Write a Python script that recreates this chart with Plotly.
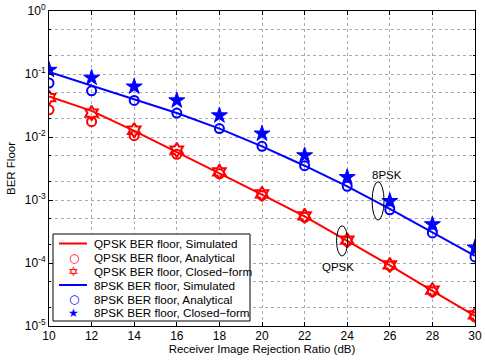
import plotly.graph_objects as go

# Receiver image rejection ratio (dB)
irr_db = [10, 12, 14, 16, 18, 20, 22, 24, 26, 28, 30]

# QPSK BER floor
qpsk_sim = [0.044, 0.026, 0.0125, 0.0058, 0.0027, 0.00122, 5.5e-4, 2.25e-4, 9.2e-5, 3.6e-5, 1.45e-5]
qpsk_ana = [0.027, 0.0175, 0.0105, 0.0053, 0.0026, 0.00118, 5.3e-4, 2.2e-4, 9.0e-5, 3.5e-5, 1.4e-5]
qpsk_cf = [0.042, 0.024, 0.0128, 0.0062, 0.0028, 0.00125, 5.6e-4, 2.3e-4, 9.3e-5, 3.7e-5, 1.5e-5]

# 8PSK BER floor
psk8_sim = [0.108, 0.066, 0.040, 0.024, 0.0136, 0.0071, 0.0035, 0.00165, 7.2e-4, 3.1e-4, 1.3e-4]
psk8_ana = [0.072, 0.054, 0.038, 0.024, 0.0136, 0.0071, 0.0035, 0.00165, 7.0e-4, 3.0e-4, 1.25e-4]
psk8_cf = [0.116, 0.087, 0.063, 0.038, 0.022, 0.0113, 0.0051, 0.0023, 9.6e-4, 4.1e-4, 1.75e-4]

y_tickvals = [1e-5, 1e-4, 1e-3, 1e-2, 1e-1, 1]
y_ticktext = ['10<sup>-5</sup>', '10<sup>-4</sup>', '10<sup>-3</sup>',
              '10<sup>-2</sup>', '10<sup>-1</sup>', '10<sup>0</sup>']
x_tickvals = [10, 12, 14, 16, 18, 20, 22, 24, 26, 28, 30]

legend_names = ['QPSK BER floor, Simulated', 'QPSK BER floor, Analytical',
                'QPSK BER floor, Closed\u2212form', '8PSK BER floor, Simulated',
                '8PSK BER floor, Analytical', '8PSK BER floor, Closed\u2212form']

RED = 'rgb(255,0,0)'
BLUE = 'rgb(0,0,255)'

W, H = 485, 361
M_L, M_R, M_T, M_B = 49, 10, 11, 35
PLOT_W = W - M_L - M_R
PLOT_H = H - M_T - M_B


def px(x_pix: float) -> float:
    """pixel column -> paper x"""
    return (x_pix - M_L) / PLOT_W


def py(y_pix: float) -> float:
    """pixel row -> paper y"""
    return (H - M_B - y_pix) / PLOT_H


fig = go.Figure()

fig.add_trace(go.Scatter(x=irr_db, y=qpsk_sim, mode='lines', name=legend_names[0],
                         line=dict(color=RED, width=2)))
fig.add_trace(go.Scatter(x=irr_db, y=qpsk_ana, mode='markers', name=legend_names[1],
                         marker=dict(symbol='circle-open', size=9, color=RED,
                                     line=dict(width=2, color=RED))))
fig.add_trace(go.Scatter(x=irr_db, y=qpsk_cf, mode='markers', name=legend_names[2],
                         marker=dict(symbol='hexagram-open', size=11, color=RED,
                                     line=dict(width=2, color=RED))))
fig.add_trace(go.Scatter(x=irr_db, y=psk8_sim, mode='lines', name=legend_names[3],
                         line=dict(color=BLUE, width=2)))
fig.add_trace(go.Scatter(x=irr_db, y=psk8_ana, mode='markers', name=legend_names[4],
                         marker=dict(symbol='circle-open', size=9, color=BLUE,
                                     line=dict(width=2, color=BLUE))))
fig.add_trace(go.Scatter(x=irr_db, y=psk8_cf, mode='markers', name=legend_names[5],
                         marker=dict(symbol='star', size=12, color=BLUE,
                                     line=dict(width=1, color=BLUE))))

# ellipses marking the two curve groups
fig.add_shape(type='circle', xref='x', yref='y', x0=23.5, x1=24.02, y0=1.29e-4, y1=3.9e-4,
              line=dict(color='black', width=1))
fig.add_shape(type='circle', xref='x', yref='y', x0=25.17, x1=25.73, y0=4.8e-4, y1=1.95e-3,
              line=dict(color='black', width=1))
# annotations on a log axis take log10 of the y value
fig.add_annotation(x=23.57, y=-4.06, text='QPSK', showarrow=False,
                   font=dict(size=11.5, color='black'))
fig.add_annotation(x=25.87, y=-2.6, text='8PSK', showarrow=False,
                   font=dict(size=11.5, color='black'))

# MATLAB style legend box, drawn by hand so the rows stay compact
fig.add_shape(type='rect', xref='paper', yref='paper', x0=px(53), x1=px(250),
              y0=py(321), y1=py(234), fillcolor='white', line=dict(color='black', width=1),
              layer='above')
row_y = [243.5, 257.5, 271.0, 285.0, 299.0, 312.5]
row_color = [RED, RED, RED, BLUE, BLUE, BLUE]
row_glyph = [None, '\u25cb', '\u2721', None, '\u25cb', '\u2605']
row_gsize = [0, 12, 13, 0, 12, 12]
for name, ry, col, glyph, gs in zip(legend_names, row_y, row_color, row_glyph, row_gsize):
    if glyph is None:
        fig.add_shape(type='line', xref='paper', yref='paper', x0=px(59), x1=px(87),
                      y0=py(ry), y1=py(ry), line=dict(color=col, width=2), layer='above')
    else:
        fig.add_annotation(xref='paper', yref='paper', x=px(73.5), y=py(ry), text=glyph,
                           showarrow=False, xanchor='center', yanchor='middle', borderpad=0,
                           font=dict(size=gs, color=col, family='DejaVu Sans'))
    fig.add_annotation(xref='paper', yref='paper', x=px(93), y=py(ry), text=name,
                       showarrow=False, xanchor='left', yanchor='middle', borderpad=0,
                       font=dict(size=11.7, color='black'))

fig.update_layout(
    width=W, height=H,
    margin=dict(l=M_L, r=M_R, t=M_T, b=M_B),
    paper_bgcolor='white', plot_bgcolor='white',
    font=dict(family='Liberation Sans, Arial, sans-serif', size=11, color='black'),
    showlegend=False,
)

fig.update_xaxes(
    range=[10, 30], tickvals=x_tickvals, automargin=False, ticklabelstandoff=-1,
    title=dict(text='Receiver Image Rejection Ratio (dB)', standoff=2, font=dict(size=11.5)),
    showline=True, linecolor='black', linewidth=1, mirror='ticks',
    ticks='inside', ticklen=4, tickcolor='black',
    showgrid=True, gridcolor='rgb(170,170,170)', griddash='dot', gridwidth=1,
    zeroline=False, tickfont=dict(size=12),
)
fig.update_yaxes(
    type='log', range=[-5, 0], tickvals=y_tickvals, ticktext=y_ticktext, automargin=False,
    title=dict(text='BER Floor', standoff=6, font=dict(size=11.5)),
    showline=True, linecolor='black', linewidth=1, mirror='ticks',
    ticks='inside', ticklen=4, tickcolor='black',
    showgrid=True, gridcolor='rgb(170,170,170)', griddash='dot', gridwidth=1,
    minor=dict(ticks='inside', ticklen=2, tickcolor='black', showgrid=True,
               gridcolor='rgb(170,170,170)', griddash='dot', gridwidth=1),
    zeroline=False, tickfont=dict(size=12),
)

# drop the page's default 8px body margin so the figure fills the window
fig.write_html("out.html", config={'displayModeBar': False},
               post_script="document.body.style.margin = '0px';")
